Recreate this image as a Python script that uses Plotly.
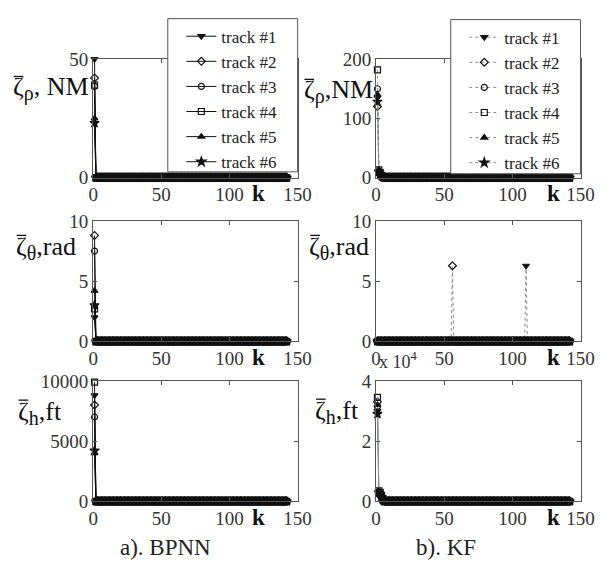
import plotly.graph_objects as go

W, H = 612, 572

K = list(range(1, 143))
N = len(K)

TRACKS = ["track #1", "track #2", "track #3", "track #4", "track #5", "track #6"]
SYMBOLS = ["triangle-down", "diamond-open", "circle-open", "square-open", "triangle-up", "star"]

# Leading values; every later step reads as 0.
BPNN_RHO_HEAD = [[50], [42], [38.5], [39], [25], [23]]
KF_RHO_HEAD = [[135, 9, 6, 3, 1], [120, 11, 7, 4, 1], [150, 10, 6, 3, 1],
               [182, 13, 8, 4, 1], [140, 12, 7, 3, 1], [128, 10, 6, 3, 1]]
BPNN_THETA_HEAD = [[2.0], [8.8], [7.5], [2.7], [4.2], [3.0]]
KF_THETA_HEAD = [[0], [0], [0], [0], [0], [0]]
KF_THETA_SPIKES = [{110: 6.28}, {56: 6.28}, {}, {}, {}, {}]
BPNN_H_HEAD = [[8800], [8000], [7000], [9900], [4000], [4200]]
KF_H_HEAD = [[30000, 3000, 2500, 1500, 500], [33000, 3200, 2600, 1600, 500],
             [31500, 3100, 2500, 1500, 400], [34500, 3500, 3000, 2000, 600],
             [32000, 3300, 2700, 1700, 500], [29000, 2900, 2400, 1400, 400]]

Y_RANGES = [[0, 50], [0, 200], [0, 10], [0, 10], [0, 10000], [0, 40000]]
Y_TICKVALS = [[0, 50], [0, 100, 200], [0, 5, 10], [0, 5, 10], [0, 5000, 10000], [0, 20000, 40000]]
Y_TICKTEXT = [["0", "50"], ["0", "100", "200"], ["0", "5", "10"], ["0", "5", "10"],
              ["0", "5000", "10000"], ["0", "2", "4"]]
X_TICKVALS = [0, 50, 100, 150]

SUBS = ["ρ", "ρ", "θ", "θ", "h", "h"]
UNITS = [", NM", ",NM", ",rad", ",rad", ",ft", ",ft"]
CAPTIONS = ["a). BPNN", "b). KF"]


def series(head, spikes=None):
    vals = list(head) + [0] * (N - len(head))
    if spikes:
        for k, v in spikes.items():
            vals[K.index(k)] = v
    return vals


# pixel layout
COLS = [(91, 302), (383, 594)]
ROWS = [(51, 174), (219, 344), (385, 510)]

FONT = "Liberation Serif"
fig = go.Figure()

panels = [
    (BPNN_RHO_HEAD, None), (KF_RHO_HEAD, None),
    (BPNN_THETA_HEAD, None), (KF_THETA_HEAD, KF_THETA_SPIKES),
    (BPNN_H_HEAD, None), (KF_H_HEAD, None),
]

for p, (heads, spikes) in enumerate(panels):
    col = p % 2
    ax = "" if p == 0 else str(p + 1)
    for t in range(6):
        y = series(heads[t], spikes[t] if spikes else None)
        kf = col == 1
        fig.add_trace(go.Scatter(
            x=K, y=y, mode="lines+markers", name=TRACKS[t],
            xaxis="x" + ax, yaxis="y" + ax,
            legend="legend2" if kf else "legend",
            showlegend=(p < 2),
            cliponaxis=False,
            line=dict(color="#8a8a8a" if kf else "#111", width=1, dash="dot" if kf else "solid"),
            marker=dict(symbol=SYMBOLS[t], size=7 if SYMBOLS[t] == "star" else 6,
                        color="#111", line=dict(color="#111", width=1.2)),
        ))

legend_common = dict(xanchor="left", yanchor="top", bgcolor="rgba(0,0,0,0)", borderwidth=0,
                     font=dict(family=FONT, size=17, color="#222"), itemwidth=30)
layout = dict(
    width=W, height=H, margin=dict(l=0, r=0, t=0, b=0),
    paper_bgcolor="white", plot_bgcolor="white",
    font=dict(family=FONT, color="#222"),
    showlegend=True,
    legend=dict(x=182 / W, y=1 - 9 / H, **legend_common),
    legend2=dict(x=474 / W, y=1 - 10 / H, **legend_common),
)

# legend frames
shapes = [
    dict(type="rect", xref="paper", yref="paper", x0=168 / W, x1=302 / W, y0=1 - 168 / H, y1=1 - 9 / H,
         line=dict(color="#555", width=1), fillcolor="white", layer="above"),
    dict(type="rect", xref="paper", yref="paper", x0=460 / W, x1=594 / W, y0=1 - 170 / H, y1=1 - 10 / H,
         line=dict(color="#555", width=1), fillcolor="white", layer="above"),
]

annotations = []
for p in range(6):
    col, row = p % 2, p // 2
    x0, x1 = COLS[col]
    top, bot = ROWS[row]
    ax = "" if p == 0 else str(p + 1)
    axis_common = dict(showline=True, linecolor="#555", linewidth=1, mirror="ticks",
                       ticks="inside", ticklen=4, tickcolor="#555", showgrid=False,
                       zeroline=False, tickfont=dict(family=FONT, size=19, color="#333"))
    layout["xaxis" + ax] = dict(domain=[x0 / W, x1 / W], range=[0, 150], tickvals=X_TICKVALS,
                                anchor="y" + ax, **axis_common)
    layout["yaxis" + ax] = dict(domain=[1 - bot / H, 1 - top / H], range=Y_RANGES[p],
                                tickvals=Y_TICKVALS[p], ticktext=Y_TICKTEXT[p],
                                anchor="x" + ax, **axis_common)
    kx = 262 if col == 0 else 566
    ky = bot + 17
    annotations.append(dict(x=kx / W, y=1 - ky / H, xref="paper", yref="paper", text="<b>k</b>",
                            showarrow=False, font=dict(family=FONT, size=23, color="#111"),
                            xanchor="center", yanchor="middle"))

Y_LABEL_POS = [(6, 82), (306, 85), (9, 247), (312, 247), (11, 418), (318, 417)]
for p, (lx, ly) in enumerate(Y_LABEL_POS):
    txt = "ζ<sub><span style='font-size:20px'>%s</span></sub>%s" % (SUBS[p], UNITS[p])
    annotations.append(dict(x=lx / W, y=1 - ly / H, xref="paper", yref="paper", text=txt,
                            showarrow=False, font=dict(family=FONT, size=26, color="#111"),
                            xanchor="left", yanchor="middle"))
    # bar over zeta
    shapes.append(dict(type="line", xref="paper", yref="paper",
                       x0=(lx + 3) / W, x1=(lx + 13) / W, y0=1 - (ly - 13) / H, y1=1 - (ly - 13) / H,
                       line=dict(color="#111", width=1.3)))

annotations.append(dict(x=384 / W, y=1 - 364 / H, xref="paper", yref="paper",
                        text="x 10<sup>4</sup>", showarrow=False,
                        font=dict(family=FONT, size=18, color="#333"),
                        xanchor="left", yanchor="middle"))
for c, cx in enumerate([166, 455]):
    annotations.append(dict(x=cx / W, y=1 - 558 / H, xref="paper", yref="paper",
                            text=CAPTIONS[c], showarrow=False,
                            font=dict(family=FONT, size=23, color="#222"),
                            xanchor="center", yanchor="middle"))

layout["annotations"] = annotations
layout["shapes"] = shapes
fig.update_layout(**layout)
fig.write_html("out.html", config={"displayModeBar": False},
               post_script="document.body.style.margin='0';")
